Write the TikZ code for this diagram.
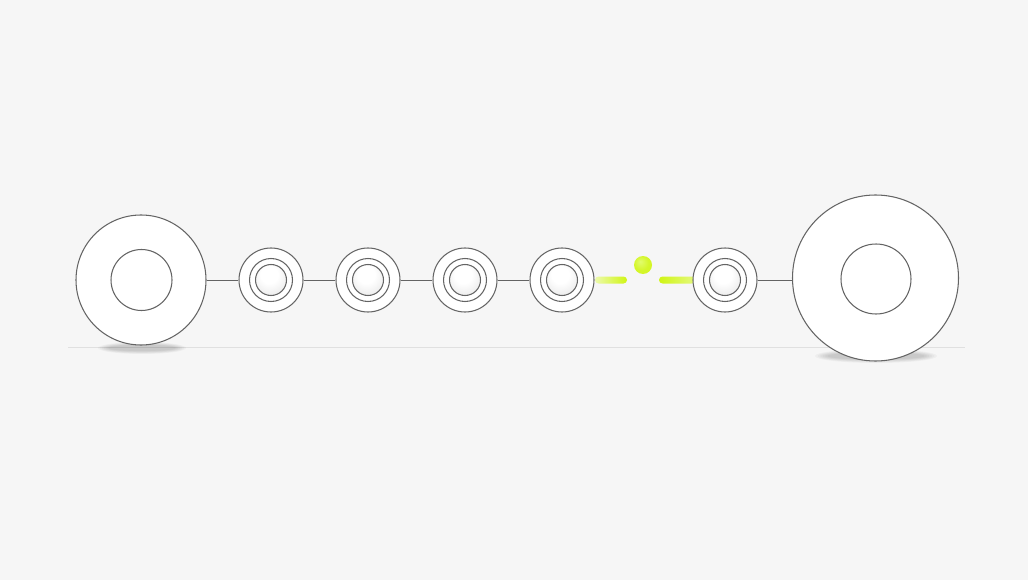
\documentclass[tikz,border=0pt]{standalone}
\usetikzlibrary{calc}
\definecolor{bgc}{RGB}{246,246,246}
\definecolor{linec}{RGB}{100,100,100}
\definecolor{lime}{RGB}{208,245,20}
\definecolor{limehi}{RGB}{226,252,110}
\definecolor{limepale}{RGB}{236,250,170}
\pgfdeclareradialshading{coreshade}{\pgfpoint{-4bp}{12bp}}{color(0bp)=(white); color(14bp)=(white); color(34bp)=(black!9); color(50bp)=(black!20)}
\pgfdeclareradialshading{ringshade}{\pgfpoint{-3bp}{6bp}}{color(0bp)=(white); color(28bp)=(white); color(50bp)=(black!9)}
\pgfdeclareradialshading{bigcore}{\pgfpoint{0bp}{8bp}}{color(0bp)=(white); color(30bp)=(white); color(50bp)=(black!5)}
\pgfdeclareradialshading{dotshade}{\pgfpoint{-8bp}{10bp}}{color(0bp)=(limehi); color(20bp)=(lime!90!white); color(50bp)=(lime)}
\begin{document}
\begin{tikzpicture}[x=1pt,y=-1pt,
  ring/.style={circle,draw=linec,line width=1.05pt,inner sep=0pt,shading=ringshade},
  midring/.style={circle,draw=linec,line width=1.05pt,inner sep=0pt,shading=ringshade},
  core/.style={circle,draw=linec,line width=1.05pt,inner sep=0pt,shading=coreshade},
  bigin/.style={circle,draw=linec,line width=1.05pt,inner sep=0pt,shading=bigcore},
  conn/.style={draw=linec,line width=0.9pt},
  gbar/.style={rectangle,rounded corners=3.5pt,inner sep=0pt,minimum height=7pt},
  shadow/.style={fill=black,opacity=0.03}]
\fill[bgc] (0,0) rectangle (1028,580);
\useasboundingbox (0,0) rectangle (1028,580);
% ground line
\draw[black!12,line width=0.9pt] (68,347) -- (965,347);
% shadows
\foreach \k in {0,...,5}{
  \fill[shadow] (142,348) ellipse ({44-2*\k} and {6-0.6*\k});
  \fill[shadow] (876,356) ellipse ({61-2.5*\k} and {7-0.7*\k});
}
% left big ring
\node[ring,minimum size=130pt] (L) at (141,280) {};
\node[bigin,minimum size=61pt] (Li) at (141.5,280) {};
% beads
\foreach \n/\x in {b1/271,b2/368,b3/465,b4/562}{
  \node[ring,minimum size=64pt] (\n) at (\x,280) {};
  \node[midring,minimum size=43pt] (\n m) at (\x,280) {};
  \node[core,minimum size=31pt] (\n c) at (\x,280) {};
}
% green bars and dot
\node[gbar,left color=limepale,right color=lime,minimum width=32pt] (g1) at (611,280) {};
\node[gbar,left color=lime,right color=limepale!70!lime,minimum width=36pt] (g2) at (677,280) {};
\node[circle,inner sep=0pt,minimum size=18pt,shading=dotshade] (dot) at (643,265) {};
% last bead
\node[ring,minimum size=64pt] (b5) at (725,280) {};
\node[midring,minimum size=43pt] (b5m) at (725,280) {};
\node[core,minimum size=31pt] (b5c) at (725,280) {};
% right big ring
\node[ring,minimum size=166pt] (R) at (875.5,278) {};
\node[bigin,minimum size=70pt] (Ri) at (876,279) {};
% connectors
\draw[conn] (L) -- (b1);
\draw[conn] (b1) -- (b2);
\draw[conn] (b2) -- (b3);
\draw[conn] (b3) -- (b4);
\draw[conn] (b5.east) -- (R.west|-b5.east);
\end{tikzpicture}
\end{document}
